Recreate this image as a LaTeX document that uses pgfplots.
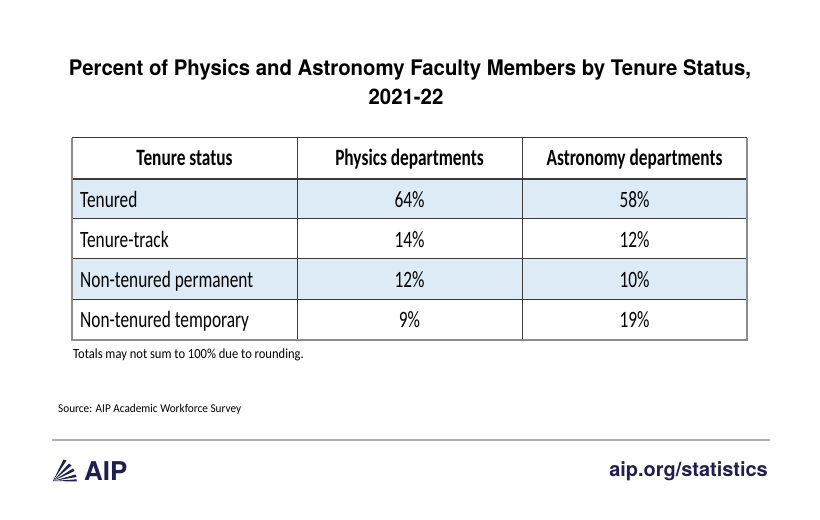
\documentclass[border=0pt]{standalone}
\usepackage{pgfplots}
\pgfplotsset{compat=1.18}
\usepackage{fontspec}
\setmainfont{Carlito}
\newfontfamily\cellfont[FakeStretch=0.74]{Carlito}
\newfontfamily\notefont[FakeStretch=0.9]{Carlito}
\newfontfamily\srcfont[FakeStretch=0.94]{Carlito}
\newfontfamily\titlefont[FakeStretch=0.95]{TeX Gyre Heros}
\newfontfamily\aipfont{TeX Gyre Heros}
\definecolor{rowblue}{RGB}{221,235,247}
\definecolor{gridline}{RGB}{60,60,60}
\definecolor{outerline}{RGB}{140,140,140}
\definecolor{rulegray}{RGB}{176,176,176}
\definecolor{aipnavy}{RGB}{32,29,82}
\begin{document}
\begin{tikzpicture}
\begin{axis}[
  width=820bp, height=520bp, scale only axis,
  xmin=0, xmax=820, ymin=0, ymax=520, y dir=reverse,
  hide axis, clip=false,
]
% row shading
\addplot[fill=rowblue, draw=none, mark=none] coordinates {(72,179) (747,179) (747,219) (72,219)};
\addplot[fill=rowblue, draw=none, mark=none] coordinates {(72,259) (747,259) (747,299) (72,299)};
% inner grid
\addplot[gridline, line width=1.4bp, mark=none] coordinates {(72,179) (747,179)};
\addplot[gridline, line width=1bp, mark=none] coordinates {(72,219) (747,219)};
\addplot[gridline, line width=1bp, mark=none] coordinates {(72,259) (747,259)};
\addplot[gridline, line width=1bp, mark=none] coordinates {(72,299) (747,299)};
\addplot[gridline, line width=1bp, mark=none] coordinates {(297,138) (297,340)};
\addplot[gridline, line width=1bp, mark=none] coordinates {(522,138) (522,340)};
\addplot[gridline, line width=1bp, mark=none] coordinates {(72,138) (747,138)};
% outer border
\addplot[outerline, line width=2bp, mark=none] coordinates {(72,138) (72,340) (747,340) (747,138)};
% header
\addplot[draw=none, mark=none, nodes near coords, point meta=explicit symbolic,
  every node near coord/.append style={anchor=base, inner sep=0pt, text=black, font=\cellfont\fontsize{23.5}{26}\selectfont\bfseries}]
  table[col sep=comma, meta=label] {
x,y,label
184.5,166,Tenure status
409.5,166,Physics departments
634.5,166,Astronomy departments
};
% row labels
\addplot[draw=none, mark=none, nodes near coords, point meta=explicit symbolic,
  every node near coord/.append style={anchor=base west, inner sep=0pt, text=black, font=\cellfont\fontsize{23.5}{26}\selectfont}]
  table[col sep=comma, meta=label] {
x,y,label
80,207.5,Tenured
80,247.5,Tenure-track
80,287.5,Non-tenured permanent
80,327.5,Non-tenured temporary
};
% physics values
\addplot[draw=none, mark=none, nodes near coords, point meta=explicit symbolic,
  every node near coord/.append style={anchor=base, inner sep=0pt, text=black, font=\cellfont\fontsize{23.5}{26}\selectfont}]
  table[col sep=comma, meta=label] {
x,y,label
409.5,207.5,64\%
409.5,247.5,14\%
409.5,287.5,12\%
409.5,327.5,9\%
};
% astronomy values
\addplot[draw=none, mark=none, nodes near coords, point meta=explicit symbolic,
  every node near coord/.append style={anchor=base, inner sep=0pt, text=black, font=\cellfont\fontsize{23.5}{26}\selectfont}]
  table[col sep=comma, meta=label] {
x,y,label
634.5,207.5,58\%
634.5,247.5,12\%
634.5,287.5,10\%
634.5,327.5,19\%
};
% bottom rule
\addplot[rulegray, line width=1.5bp, mark=none] coordinates {(52,440) (770,440)};
% logo fan
\addplot[fill=aipnavy, draw=none, mark=none] coordinates {(53,481) (63.5,459.5) (66.5,460.5)};
\addplot[fill=aipnavy, draw=none, mark=none] coordinates {(53,481) (69,463.5) (71.5,465.5)};
\addplot[fill=aipnavy, draw=none, mark=none] coordinates {(53,481) (73,468.5) (74.5,471)};
\addplot[fill=aipnavy, draw=none, mark=none] coordinates {(53,481) (75.5,474.5) (76.5,477)};
\addplot[fill=aipnavy, draw=none, mark=none] coordinates {(53,481) (76.5,479.3) (76.5,481.5)};
% texts
\node[anchor=base, inner sep=0pt] at (axis cs:410,76) {\titlefont\fontsize{21.5}{26}\selectfont\bfseries Percent of Physics and Astronomy Faculty Members by Tenure Status,};
\node[anchor=base, inner sep=0pt] at (axis cs:406,105) {\titlefont\fontsize{21.5}{26}\selectfont\bfseries 2021-22};
\node[anchor=base west, inner sep=0pt] at (axis cs:73,358) {\notefont\fontsize{14}{16}\selectfont Totals may not sum to 100\% due to rounding.};
\node[anchor=base west, inner sep=0pt] at (axis cs:58,412) {\srcfont\fontsize{12}{14}\selectfont Source: AIP Academic Workforce Survey};
\node[anchor=base west, inner sep=0pt, text=aipnavy] at (axis cs:84,480) {\aipfont\fontsize{26}{28}\selectfont\bfseries AIP};
\node[anchor=base east, inner sep=0pt, text=aipnavy] at (axis cs:768,476) {\aipfont\fontsize{20}{22}\selectfont\bfseries aip.org/statistics};
\coordinate (BL) at (rel axis cs:0,0);
\coordinate (TR) at (rel axis cs:1,1);
\end{axis}
\pgfresetboundingbox
\path (BL) rectangle (TR);
\end{tikzpicture}
\end{document}
